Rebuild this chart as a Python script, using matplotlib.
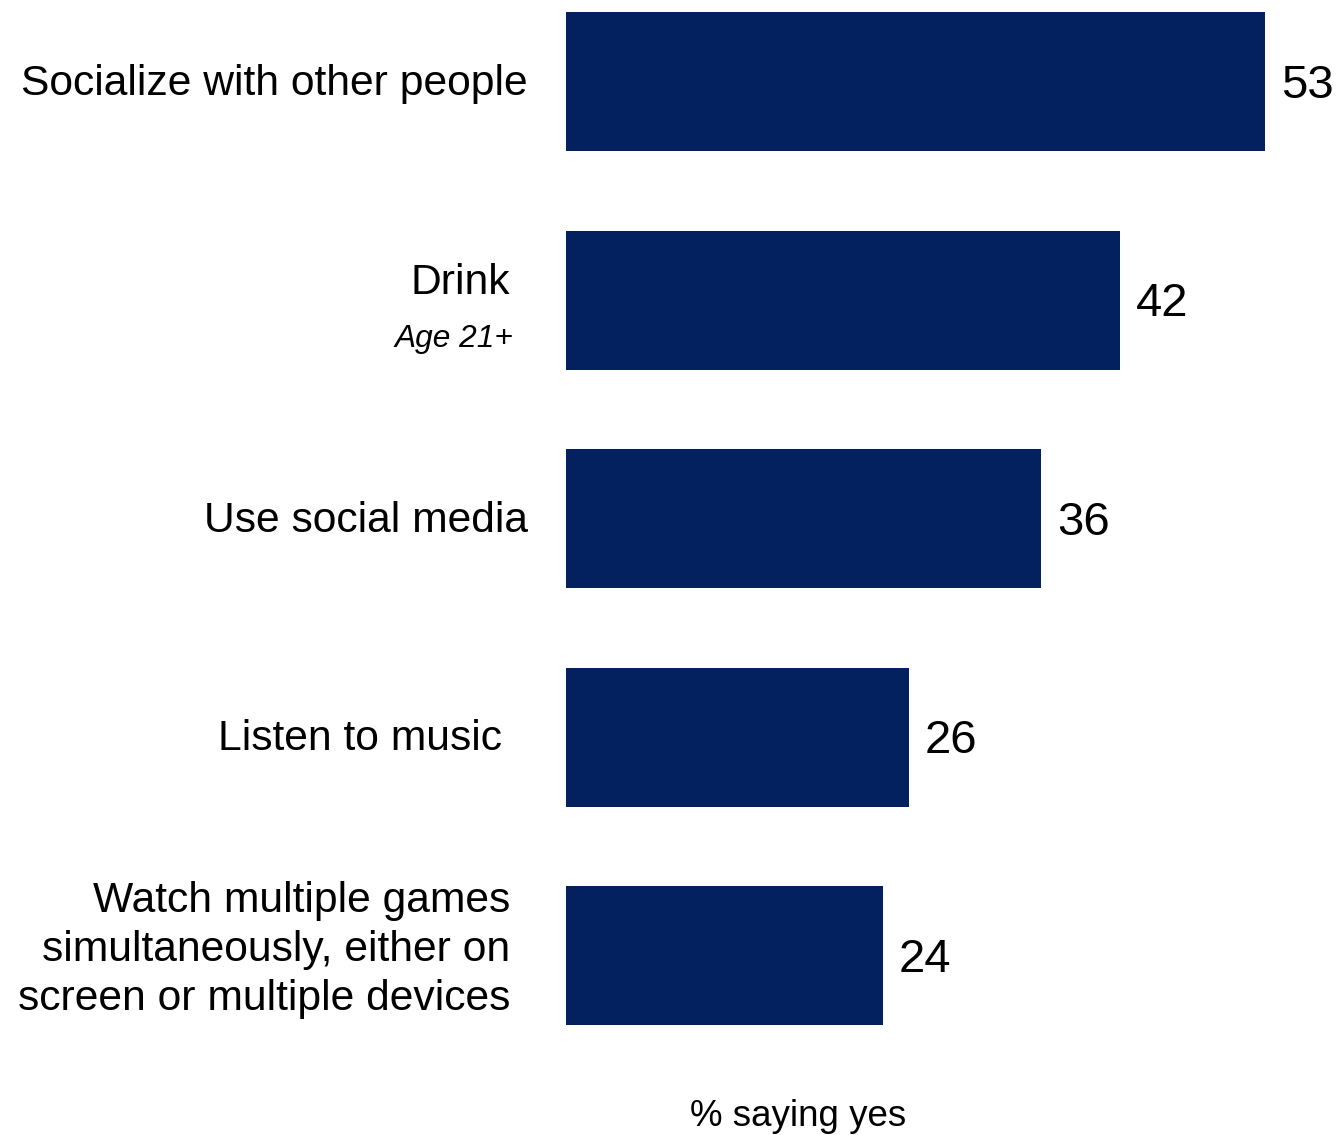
import matplotlib
matplotlib.use("Agg")
import matplotlib.pyplot as plt
from matplotlib.transforms import offset_copy

categories = [
    "Socialize with other people",
    "Drink",
    "Use social media",
    "Listen to music",
    "Watch multiple games\nsimultaneously, either on\nscreen or multiple devices",
]
values = [53, 42, 36, 26, 24]
notes = ["", "Age 21+", "", "", ""]
xlabel = "% saying yes"

# label right-edge offsets in pixels from the bar base (style/position)
label_dx = [-38, -56, -38, -64, -56]
label_dy = [-2, 17, -2, -2, 6]

plt.rcParams['font.family'] = ['Liberation Sans', 'DejaVu Sans']

W, H = 1337, 1135
fig = plt.figure(figsize=(W / 100, H / 100), dpi=100)
left_px = 566
ax = fig.add_axes([left_px / W, 0, 1 - left_px / W, 1])

px_per_unit = 699 / 53
ax.set_xlim(0, (W - left_px) / px_per_unit)
spacing = 218.6
top = -81.5 / spacing
bottom = (H - 81.5) / spacing
ax.set_ylim(bottom, top)

color = "#03215E"
ypos = list(range(len(categories)))
ax.barh(ypos, values, height=139 / spacing, color=color)

for i, (cat, v, note) in enumerate(zip(categories, values, notes)):
    tr = offset_copy(ax.transData, fig=fig, x=label_dx[i] * 0.72, y=label_dy[i] * 0.72, units='points')
    ax.text(0, i, cat, transform=tr, ha='right', va='center', fontsize=30.7,
            linespacing=1.29, color='black')
    if note:
        tr2 = offset_copy(ax.transData, fig=fig, x=-53 * 0.72, y=-39 * 0.72, units='points')
        ax.text(0, i, note, transform=tr2, ha='right', va='center', fontsize=22.8,
                style='italic', color='black')
    trv = offset_copy(ax.transData, fig=fig, x=16 * 0.72, y=-4 * 0.72, units='points')
    ax.text(v, i, str(v), transform=trv, ha='left', va='center', fontsize=34, color='black')

fig.text(798 / W, 1 - 1117 / H, xlabel, ha='center', va='center', fontsize=26.5, color='black')

ax.axis('off')
fig.savefig("out.png", dpi=100)
